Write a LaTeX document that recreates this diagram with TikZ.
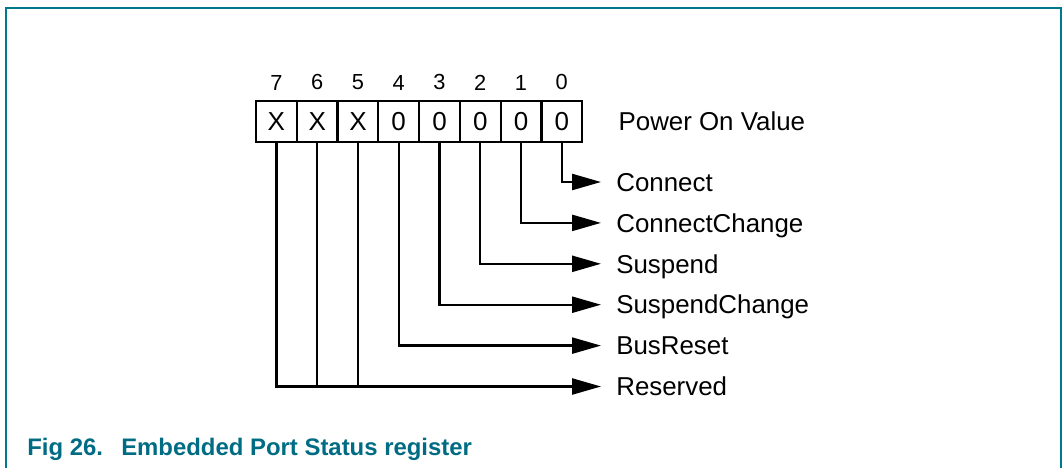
\documentclass[tikz,border=0pt]{standalone}
\usepackage{fontspec}
\setmainfont{Liberation Sans}
\usepackage{tikz}
\usetikzlibrary{arrows.meta, positioning}
\usepackage{xcolor}
\definecolor{frameteal}{HTML}{00788E}
\definecolor{captionteal}{HTML}{006C84}
\tikzset{
  cell/.style={rectangle, draw, line width=1.6pt, outer sep=0pt,
               inner sep=0pt, minimum width=1.019cm, minimum height=1.025cm,
               font=\fontsize{18.5}{20}\selectfont},
  bitnum/.style={inner sep=0pt, font=\fontsize{15.5}{17}\selectfont},
  field/.style={anchor=west, inner xsep=10.7pt, inner ysep=0pt,
                text height=13.2pt, text depth=0pt,
                font=\fontsize{18.4}{20}\selectfont},
  arrow/.style={-{Triangle[length=20.6pt, width=11.4pt]}, line width=1.6pt},
  wire/.style={line width=1.6pt},
  framebox/.style={draw=frameteal, line width=1pt},
  figcaption/.style={anchor=west, inner sep=0pt, text=captionteal,
                     text height=12.2pt, text depth=0pt,
                     font=\fontsize{17}{20}\selectfont\bfseries},
}

\begin{document}
\begin{tikzpicture}[x=0.025cm, y=-0.025cm]

  \useasboundingbox (0,0) rectangle (1063,468);
  \draw[framebox] (6,468) -- (6,8) -- (1061,8) -- (1061,468);

  % register cells, bit 7 on the left
  \node[cell] (c7) at (276.4,121.5) {X};
  \node[cell, right=0pt of c7] (c6) {X};
  \node[cell, right=0pt of c6] (c5) {X};
  \node[cell, right=0pt of c5] (c4) {0};
  \node[cell, right=0pt of c4] (c3) {0};
  \node[cell, right=0pt of c3] (c2) {0};
  \node[cell, right=0pt of c2] (c1) {0};
  \node[cell, right=0pt of c1] (c0) {0};

  \node[bitnum, above=7.5pt of c7] (n7) {7};
  \node[bitnum, above=7.5pt of c6] (n6) {6};
  \node[bitnum, above=7.5pt of c5] (n5) {5};
  \node[bitnum, above=7.5pt of c4] (n4) {4};
  \node[bitnum, above=7.5pt of c3] (n3) {3};
  \node[bitnum, above=7.5pt of c2] (n2) {2};
  \node[bitnum, above=7.5pt of c1] (n1) {1};
  \node[bitnum, above=7.5pt of c0] (n0) {0};

  \node[field, right=15pt of c0] (pov) {Power On Value};

  % field names
  \node[field] (fconn)    at (601,182.0) {Connect};
  \node[field] (fconnchg) at (601,222.9) {ConnectChange};
  \node[field] (fsusp)    at (601,263.8) {Suspend};
  \node[field] (fsuspchg) at (601,304.7) {SuspendChange};
  \node[field] (fbusrst)  at (601,345.6) {BusReset};
  \node[field] (frsvd)    at (601,386.5) {Reserved};

  \draw[arrow] (c0.south) |- (fconn);
  \draw[arrow] (c1.south) |- (fconnchg);
  \draw[arrow] (c2.south) |- (fsusp);
  \draw[arrow] (c3.south) |- (fsuspchg);
  \draw[arrow] (c4.south) |- (fbusrst);
  \draw[arrow] (c7.south) |- (frsvd);
  \draw[wire] (c6.south) -- (c6.south |- frsvd.west);
  \draw[wire] (c5.south) -- (c5.south |- frsvd.west);

  \node[figcaption] (cap) at (27,447)
    {Fig 26.\hspace{13pt}Embedded Port Status register};

\end{tikzpicture}
\end{document}
